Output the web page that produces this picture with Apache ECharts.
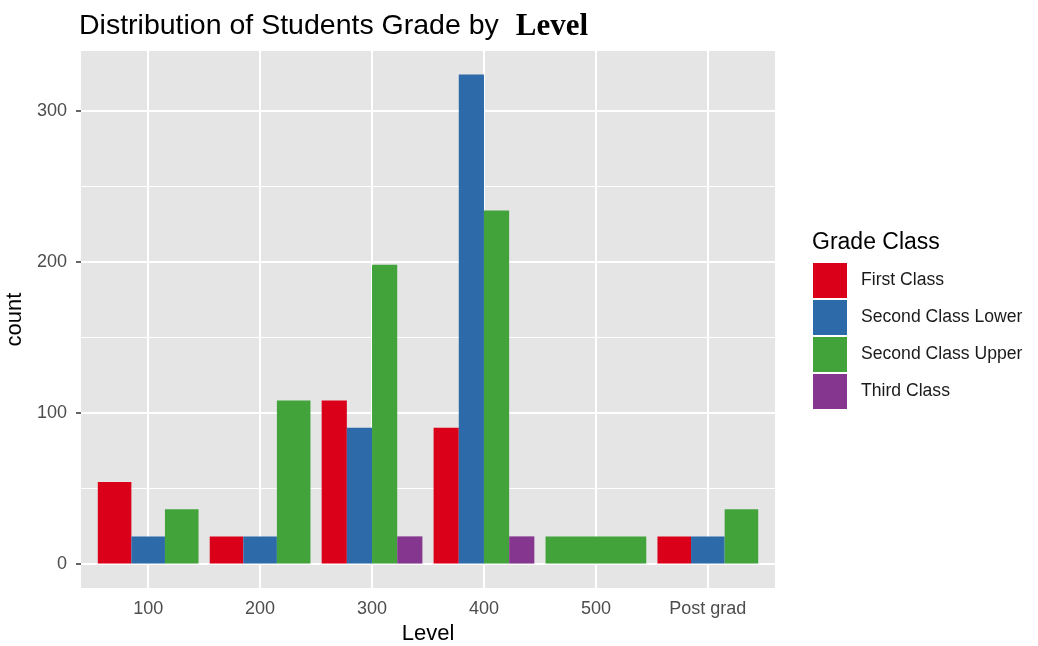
<!DOCTYPE html>
<html>
<head>
<meta charset="utf-8">
<script src="https://cdn.jsdelivr.net/npm/echarts@6/dist/echarts.min.js"></script>
<style>
html, body { margin: 0; padding: 0; background: #fff; }
#chart { width: 1038px; height: 646px; }
</style>
</head>
<body>
<div id="chart"></div>
<script>
// levels on the x axis
var categories = ["100", "200", "300", "400", "500", "Post grad"];
var grades = ["First Class", "Second Class Lower", "Second Class Upper", "Third Class"];
// counts per level, null = no bar for that level
var firstClass = [54, 18, 108, 90, null, 18];
var secondLower = [18, 18, 90, 324, null, 18];
var secondUpper = [36, 108, 198, 234, 18, 36];
var thirdClass = [null, null, 18, 18, null, null];
var yTicks = [0, 100, 200, 300];
var yMinor = [50, 150, 250];

var color = ["#DA0019", "#2D6AA9", "#42A33B", "#85378F"];
var allSeries = [firstClass, secondLower, secondUpper, thirdClass];
var font = "Liberation Sans";

// dodge like ggplot: each level splits 0.9 among the bars it has
function dodge(k) {
    var out = [];
    for (var i = 0; i < categories.length; i++) {
        if (allSeries[k][i] == null) continue;
        var present = [];
        for (var s = 0; s < allSeries.length; s++) {
            if (allSeries[s][i] != null) present.push(s);
        }
        var w = 0.9 / present.length;
        var pos = present.indexOf(k);
        var x = i + 1 - 0.45 + (pos + 0.5) * w;
        out.push([x, allSeries[k][i], w]);
    }
    return out;
}

function renderBar(params, api) {
    var x = api.value(0), y = api.value(1), w = api.value(2);
    var a = api.coord([x - w / 2, y]);
    var b = api.coord([x + w / 2, 0]);
    return {
        type: "rect",
        shape: { x: a[0], y: a[1], width: b[0] - a[0], height: b[1] - a[1] },
        style: { fill: color[params.seriesIndex] }
    };
}

var gridLines = [];
yTicks.forEach(function (v) {
    gridLines.push({ yAxis: v, lineStyle: { color: "#fff", width: 2, type: "solid" } });
});
yMinor.forEach(function (v) {
    gridLines.push({ yAxis: v, lineStyle: { color: "#fff", width: 1, type: "solid" } });
});
categories.forEach(function (c, i) {
    gridLines.push({ xAxis: i + 1, lineStyle: { color: "#fff", width: 2, type: "solid" } });
});

var series = grades.map(function (g, k) {
    return {
        name: g,
        type: "custom",
        renderItem: renderBar,
        itemStyle: { color: color[k] },
        encode: { x: 0, y: 1 },
        data: dodge(k),
        z: 5
    };
});
series.push({
    name: "grid",
    type: "line",
    data: [],
    z: 1,
    markLine: {
        silent: true,
        symbol: "none",
        label: { show: false },
        animation: false,
        data: gridLines
    }
});

var option = {
    animation: false,
    color: color,
    title: {
        text: "{a|Distribution of Students Grade by }{b|Level}",
        left: 79,
        top: 11,
        padding: 0,
        textStyle: {
            rich: {
                a: { fontFamily: font, fontSize: 28.5, color: "#000", fontWeight: "normal" },
                b: { fontFamily: "Liberation Serif", fontSize: 31, color: "#000", fontWeight: "bold", padding: [0, 0, 0, 9] }
            }
        }
    },
    grid: {
        left: 81,
        right: 263,
        top: 51,
        bottom: 58,
        show: true,
        backgroundColor: "#E5E5E5",
        borderWidth: 0,
        outerBoundsMode: "none"
    },
    legend: {
        data: grades,
        orient: "vertical",
        left: 813,
        top: 263,
        padding: 0,
        icon: "rect",
        itemWidth: 34,
        itemHeight: 35,
        itemGap: 2,
        textStyle: { fontFamily: font, fontSize: 17.6, color: "#1a1a1a", padding: [0, 0, 0, 9] }
    },
    graphic: [{
        type: "text",
        left: 812,
        top: 231,
        style: { text: "Grade Class", fontFamily: font, fontSize: 23, fill: "#000" }
    }],
    xAxis: {
        type: "value",
        min: 0.4,
        max: 6.6,
        name: "Level",
        nameLocation: "middle",
        nameGap: 32,
        nameTextStyle: { fontFamily: font, fontSize: 22, color: "#000" },
        axisLine: { show: false },
        axisTick: { show: true, customValues: [1, 2, 3, 4, 5, 6], length: 5, lineStyle: { color: "#333", width: 1.5 } },
        axisLabel: {
            customValues: [1, 2, 3, 4, 5, 6],
            formatter: function (v) { return categories[Math.round(v) - 1]; },
            fontFamily: font,
            fontSize: 18,
            color: "#4D4D4D",
            margin: 12
        },
        splitLine: { show: false }
    },
    yAxis: {
        type: "value",
        min: -16.2,
        max: 339.6,
        name: "count",
        nameLocation: "middle",
        nameGap: 41,
        nameRotate: 90,
        nameTextStyle: { fontFamily: font, fontSize: 22, color: "#000" },
        axisLine: { show: false },
        axisTick: { show: true, customValues: yTicks, length: 5, lineStyle: { color: "#333", width: 1.5 } },
        axisLabel: {
            customValues: yTicks,
            fontFamily: font,
            fontSize: 18,
            color: "#4D4D4D",
            margin: 14
        },
        splitLine: { show: false }
    },
    series: series
};

var chart = echarts.init(document.getElementById("chart"));
chart.setOption(option);
</script>
</body>
</html>
